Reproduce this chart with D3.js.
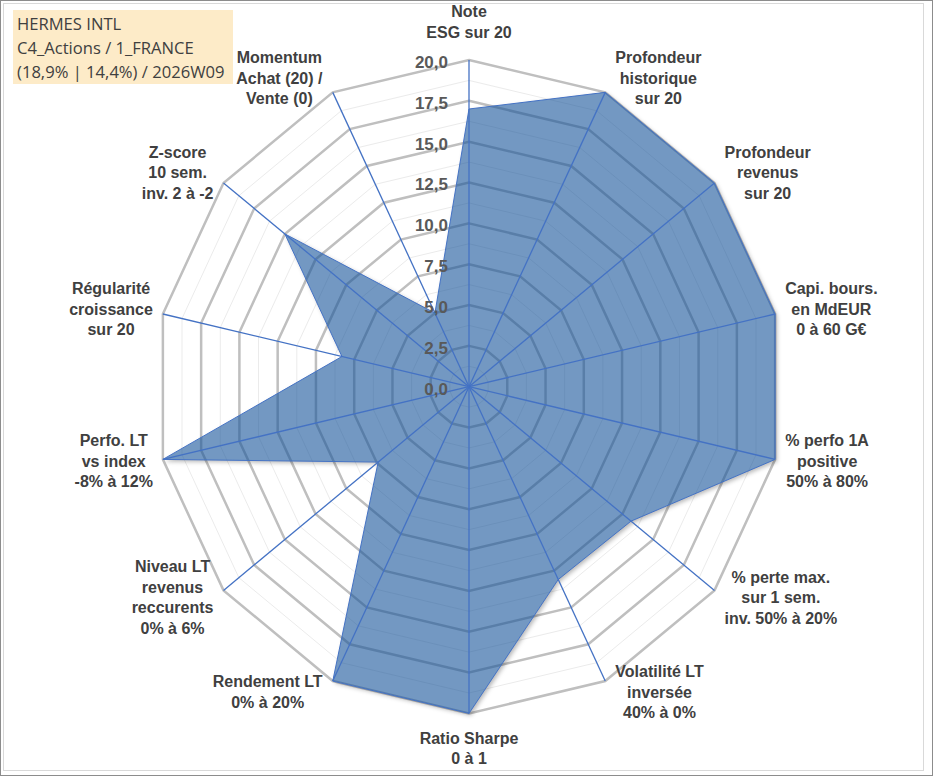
<!DOCTYPE html>
<html>
<head>
<meta charset="utf-8">
<script src="https://cdn.jsdelivr.net/npm/d3@7"></script>
<style>
  body { margin: 0; background: #fff; }
  svg { display: block; }
</style>
</head>
<body>
<div id="chart"></div>
<script>
// data ==========
const categories = [
  "Note\nESG sur 20",
  "Profondeur\nhistorique\nsur 20",
  "Profondeur\nrevenus\nsur 20",
  "Capi. bours.\nen MdEUR\n0 à 60 G€",
  "% perfo 1A\npositive\n50% à 80%",
  "% perte max.\nsur 1 sem.\ninv. 50% à 20%",
  "Volatilité LT\ninversée\n40% à 0%",
  "Ratio Sharpe\n0 à 1",
  "Rendement LT\n0% à 20%",
  "Niveau LT\nrevenus\nreccurents\n0% à 6%",
  "Perfo. LT\nvs index\n-8% à 12%",
  "Régularité\ncroissance\nsur 20",
  "Z-score\n10 sem.\ninv. 2 à -2",
  "Momentum\nAchat (20) /\nVente (0)",
];
const values = [17, 20, 20, 20, 20, 13.2, 13.1, 20, 20, 7.4, 20, 8.3, 15, 5];
const majorTicks = [0, 2.5, 5, 7.5, 10, 12.5, 15, 17.5, 20];
const minorTicks = [1.25, 3.75, 6.25, 8.75, 11.25, 13.75, 16.25, 18.75];
const titleLines = ["HERMES INTL", "C4_Actions / 1_FRANCE", "(18,9% | 14,4%) / 2026W09"];

function draw() {
  const width = 933, height = 776;
  const cx = 469, cy = 386.7;

  const svg = d3.select("#chart")
    .append("svg")
    .attr("width", width)
    .attr("height", height);

  svg.append("rect")
    .attr("x", 0.5).attr("y", 0.5)
    .attr("width", width - 1).attr("height", height - 1)
    .attr("fill", "#fff").attr("stroke", "#8c8c8c");
  svg.append("rect")
    .attr("x", 3.5).attr("y", 3.5)
    .attr("width", 920).attr("height", 767)
    .attr("fill", "none").attr("stroke", "#d9d9d9");

  //Scales ==========
  const n = categories.length;
  const angle = d3.scaleLinear().domain([0, n]).range([0, 2 * Math.PI]);
  const rX = d3.scaleLinear().domain([0, 20]).range([0, 314]);
  const rY = d3.scaleLinear().domain([0, 20]).range([0, 326.7]);

  const pt = (v, i) => [
    cx + rX(v) * Math.sin(angle(i)),
    cy - rY(v) * Math.cos(angle(i)),
  ];
  const ring = (v) => d3.range(n).map((i) => pt(v, i));
  const line = d3.line().curve(d3.curveLinearClosed);
  const seriesPath = line(values.map((v, i) => pt(v, i)));

  // shadow only outside the series shape
  const defs = svg.append("defs");
  defs.append("filter").attr("id", "blur")
    .attr("x", "-10%").attr("y", "-10%").attr("width", "120%").attr("height", "120%")
    .append("feGaussianBlur").attr("stdDeviation", 2);
  const mask = defs.append("mask").attr("id", "outside");
  mask.append("rect").attr("width", width).attr("height", height).attr("fill", "#fff");
  mask.append("path").attr("d", seriesPath).attr("fill", "#000");

  const ctr = svg.append("g");

  ctr.selectAll("path.minor")
    .data(minorTicks)
    .join("path")
    .attr("class", "minor")
    .attr("d", (d) => line(ring(d)))
    .attr("fill", "none")
    .attr("stroke", "#ebebeb")
    .attr("stroke-width", 1);

  ctr.selectAll("path.major")
    .data(majorTicks.filter((d) => d > 0))
    .join("path")
    .attr("class", "major")
    .attr("d", (d) => line(ring(d)))
    .attr("fill", "none")
    .attr("stroke", "#bfbfbf")
    .attr("stroke-width", 2.5);

  // series
  ctr.append("g")
    .attr("mask", "url(#outside)")
    .append("path")
    .attr("d", seriesPath)
    .attr("transform", "translate(2,2)")
    .attr("fill", "#000")
    .attr("fill-opacity", 0.28)
    .attr("filter", "url(#blur)");

  ctr.append("path")
    .attr("d", seriesPath)
    .attr("fill", "rgb(22,83,153)")
    .attr("fill-opacity", 0.6)
    .attr("stroke", "#4472c4")
    .attr("stroke-width", 1);

  // spokes
  ctr.selectAll("line.spoke")
    .data(categories)
    .join("line")
    .attr("class", "spoke")
    .attr("x1", cx).attr("y1", cy)
    .attr("x2", (d, i) => pt(20, i)[0])
    .attr("y2", (d, i) => pt(20, i)[1])
    .attr("stroke", "#4472c4")
    .attr("stroke-width", 1.3);

  // tick labels
  ctr.selectAll("text.tick")
    .data(majorTicks)
    .join("text")
    .attr("class", "tick")
    .attr("x", cx - 21)
    .attr("y", (d) => cy - rY(d) + 2)
    .attr("dy", "0.35em")
    .attr("text-anchor", "end")
    .attr("font-family", "'Liberation Sans', Arial, sans-serif")
    .attr("font-weight", "bold")
    .attr("font-size", "17px")
    .attr("fill", "#595959")
    .text((d) => d3.format(".1f")(d).replace(".", ","));

  // category labels
  const lineH = 20.5;
  categories.forEach((label, i) => {
    const lines = label.split("\n");
    const a = angle(i);
    const s = Math.sin(a), c = Math.cos(a);
    const [vx, vy] = pt(20, i);
    const t = ctr.append("text")
      .attr("text-anchor", "middle")
      .attr("font-family", "'Liberation Sans', Arial, sans-serif")
      .attr("font-weight", "bold")
      .attr("font-size", "16px")
      .attr("fill", "#404040");
    t.selectAll("tspan")
      .data(lines)
      .join("tspan")
      .attr("x", 0)
      .attr("dy", (d, k) => (k === 0 ? 0 : lineH))
      .attr("dominant-baseline", "middle")
      .text((d) => d);
    const w = t.node().getBBox().width;
    const h = lines.length * lineH;
    let dx, dy;
    if (Math.abs(s) < 0.1) {
      dx = 0;
      dy = -c * (h / 2 + 16);
    } else {
      dx = Math.sign(s) * (w / 2 + 10);
      dy = -c * 14;
    }
    const yTop = vy + dy - h / 2 + lineH / 2;
    t.attr("transform", `translate(${vx + dx},${yTop})`)
      .attr("dominant-baseline", "middle");
  });

  // title box
  const tb = svg.append("g");
  tb.append("rect")
    .attr("x", 13).attr("y", 10)
    .attr("width", 220).attr("height", 74)
    .attr("fill", "#fdebc8");
  tb.selectAll("text")
    .data(titleLines)
    .join("text")
    .attr("x", 17)
    .attr("y", (d, i) => 24.5 + i * 24)
    .attr("dy", "0.35em")
    .attr("font-family", "'Open Sans', 'Liberation Sans', sans-serif")
    .attr("font-size", "16.6px")
    .attr("fill", "#404040")
    .text((d) => d);
}

draw();
</script>
</body>
</html>
